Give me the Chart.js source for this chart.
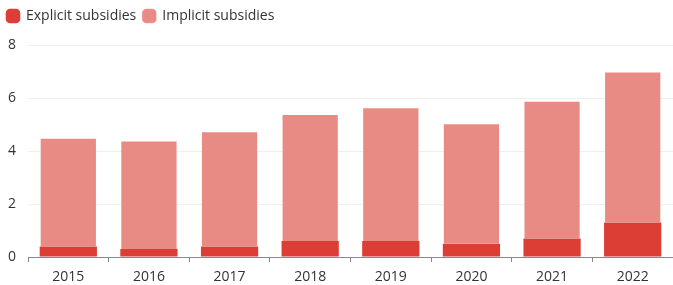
<!DOCTYPE html>
<html lang="en">
<head>
  <meta charset="UTF-8">
  <title>Explicit and implicit subsidies</title>
  <script src="https://cdn.jsdelivr.net/npm/chart.js"></script>
  <style>
    html, body {
      margin: 0;
      padding: 0;
      background: #fff;
    }
    #wrap {
      width: 673px;
      height: 285px;
    }
  </style>
</head>
<body>
  <div id="wrap">
    <canvas id="chart"></canvas>
  </div>

  <script>
    const years = ['2015', '2016', '2017', '2018', '2019', '2020', '2021', '2022'];
    const explicit = [0.4, 0.3, 0.4, 0.6, 0.6, 0.5, 0.7, 1.3];
    const implicit = [4.1, 4.1, 4.35, 4.8, 5.05, 4.55, 5.2, 5.7];
    const yTicks = [0, 2, 4, 6, 8];

    Chart.defaults.font.family = '"Open Sans", Lato, sans-serif';
    Chart.defaults.font.size = 14;
    Chart.defaults.color = '#333';

    // push the plot down below the legend
    const legendGap = {
      id: 'legendGap',
      beforeInit(chart) {
        const fit = chart.legend.fit;
        chart.legend.fit = function () {
          fit.bind(chart.legend)();
          this.height += 12;
        };
      }
    };

    new Chart(document.getElementById('chart'), {
      type: 'bar',
      data: {
        labels: years,
        datasets: [
          {
            label: 'Explicit subsidies',
            data: explicit,
            backgroundColor: '#dc3d35',
            borderWidth: 0,
            categoryPercentage: 0.71,
            barPercentage: 1
          },
          {
            label: 'Implicit subsidies',
            data: implicit,
            backgroundColor: '#e98b85',
            borderColor: 'rgba(255,255,255,0.35)',
            borderWidth: { top: 1, left: 1, right: 1, bottom: 0 },
            borderSkipped: false,
            categoryPercentage: 0.71,
            barPercentage: 1
          }
        ]
      },
      plugins: [legendGap],
      options: {
        responsive: true,
        maintainAspectRatio: false,
        animation: false,
        layout: { padding: { left: 0, right: 0, top: 2, bottom: 0 } },
        plugins: {
          legend: {
            position: 'top',
            align: 'start',
            labels: {
              usePointStyle: true,
              pointStyle: 'rectRounded',
              boxWidth: 12,
              boxHeight: 12,
              padding: 7,
              color: '#333'
            }
          },
          tooltip: { enabled: false }
        },
        scales: {
          x: {
            stacked: true,
            grid: {
              display: true,
              drawOnChartArea: false,
              drawTicks: true,
              tickLength: 5,
              color: '#888'
            },
            border: { display: true, color: '#888', width: 1 },
            ticks: { color: '#333', padding: 7 },
            afterFit: axis => {
              axis.height = 28;
            }
          },
          y: {
            stacked: true,
            min: 0,
            max: 8,
            afterBuildTicks: axis => {
              axis.ticks = yTicks.map(v => ({ value: v }));
            },
            afterFit: axis => {
              axis.width = 28;
            },
            grid: {
              color: '#eeeeee',
              drawTicks: false
            },
            border: { display: false },
            ticks: { color: '#333', padding: 12 }
          }
        }
      }
    });
  </script>
</body>
</html>
